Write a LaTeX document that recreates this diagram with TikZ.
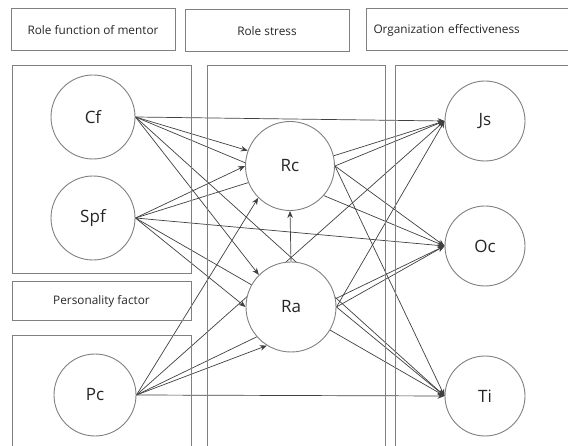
\documentclass[tikz,border=0pt]{standalone}
\usepackage{fontspec}
\setmainfont{Open Sans}
\usetikzlibrary{arrows.meta, positioning, backgrounds}

\begin{document}
\begin{tikzpicture}[x=1pt, y=-1pt, >={Stealth[length=7pt,width=5.5pt]},
  frame/.style={draw=black!50, line width=1pt},
  hdr/.style={frame, rectangle, minimum height=42, inner sep=2pt, font=\fontsize{11.8}{14}\selectfont, text=black!85},
  var/.style={circle, draw=black!50, line width=0.9pt, fill=white, inner sep=0pt, font=\fontsize{17}{20}\selectfont, text=black!85},
  link/.style={->, draw=black!75, line width=0.7pt}]
\path[use as bounding box, clip] (0,0) rectangle (568,446);
\draw[frame] (12,66) rectangle (191,274);
\draw[frame] (12,336) rectangle (191,460);
\draw[frame] (207,66) rectangle (385,460);
\draw[frame] (395,66) rectangle (580,460);
\node[hdr, minimum width=164] (mentor) at (93,30) {Role function of mentor};
\node[hdr, minimum width=164] (stress) at (267,31) {Role stress};
\node[hdr, anchor=west, text width=200, inner xsep=7, align=left] (effect) at (366,30) {Organization effectiveness};
\node[hdr, minimum width=179, minimum height=39] (person) at (101.5,301.5) {Personality factor};
\node[var, minimum size=84] (Cf) at (93,117) {Cf};
\node[var, minimum size=84] (Spf) at (93,218) {Spf};
\node[var, minimum size=82] (Pc) at (95,395) {Pc};
\node[var, minimum size=89] (Rc) at (290,166) {Rc};
\node[var, minimum size=90] (Ra) at (291,307) {Ra};
\node[var, minimum size=80] (Js) at (485,121) {Js};
\node[var, minimum size=80] (Oc) at (485,246) {Oc};
\node[var, minimum size=80] (Ti) at (485,396) {Ti};
\begin{scope}[on background layer]
\foreach \s in {Cf,Spf,Pc}
  \foreach \t in {Js,Oc,Ti}
    \draw[link] (\s.east) -- (\t.west);
\foreach \s / \a in {Cf/160, Spf/180, Pc/225}
  \draw[link] (\s.east) -- (Rc.\a);
\foreach \s / \a in {Cf/135, Spf/180, Pc/238}
  \draw[link] (\s.east) -- (Ra.\a);
\foreach \t in {Js,Oc,Ti} {
  \draw[link] (Rc.east) -- (\t.west);
  \draw[link] (Ra.east) -- (\t.west);
}
\draw[link] (Ra.north) -- (Rc.south);
\end{scope}
\end{tikzpicture}
\end{document}
